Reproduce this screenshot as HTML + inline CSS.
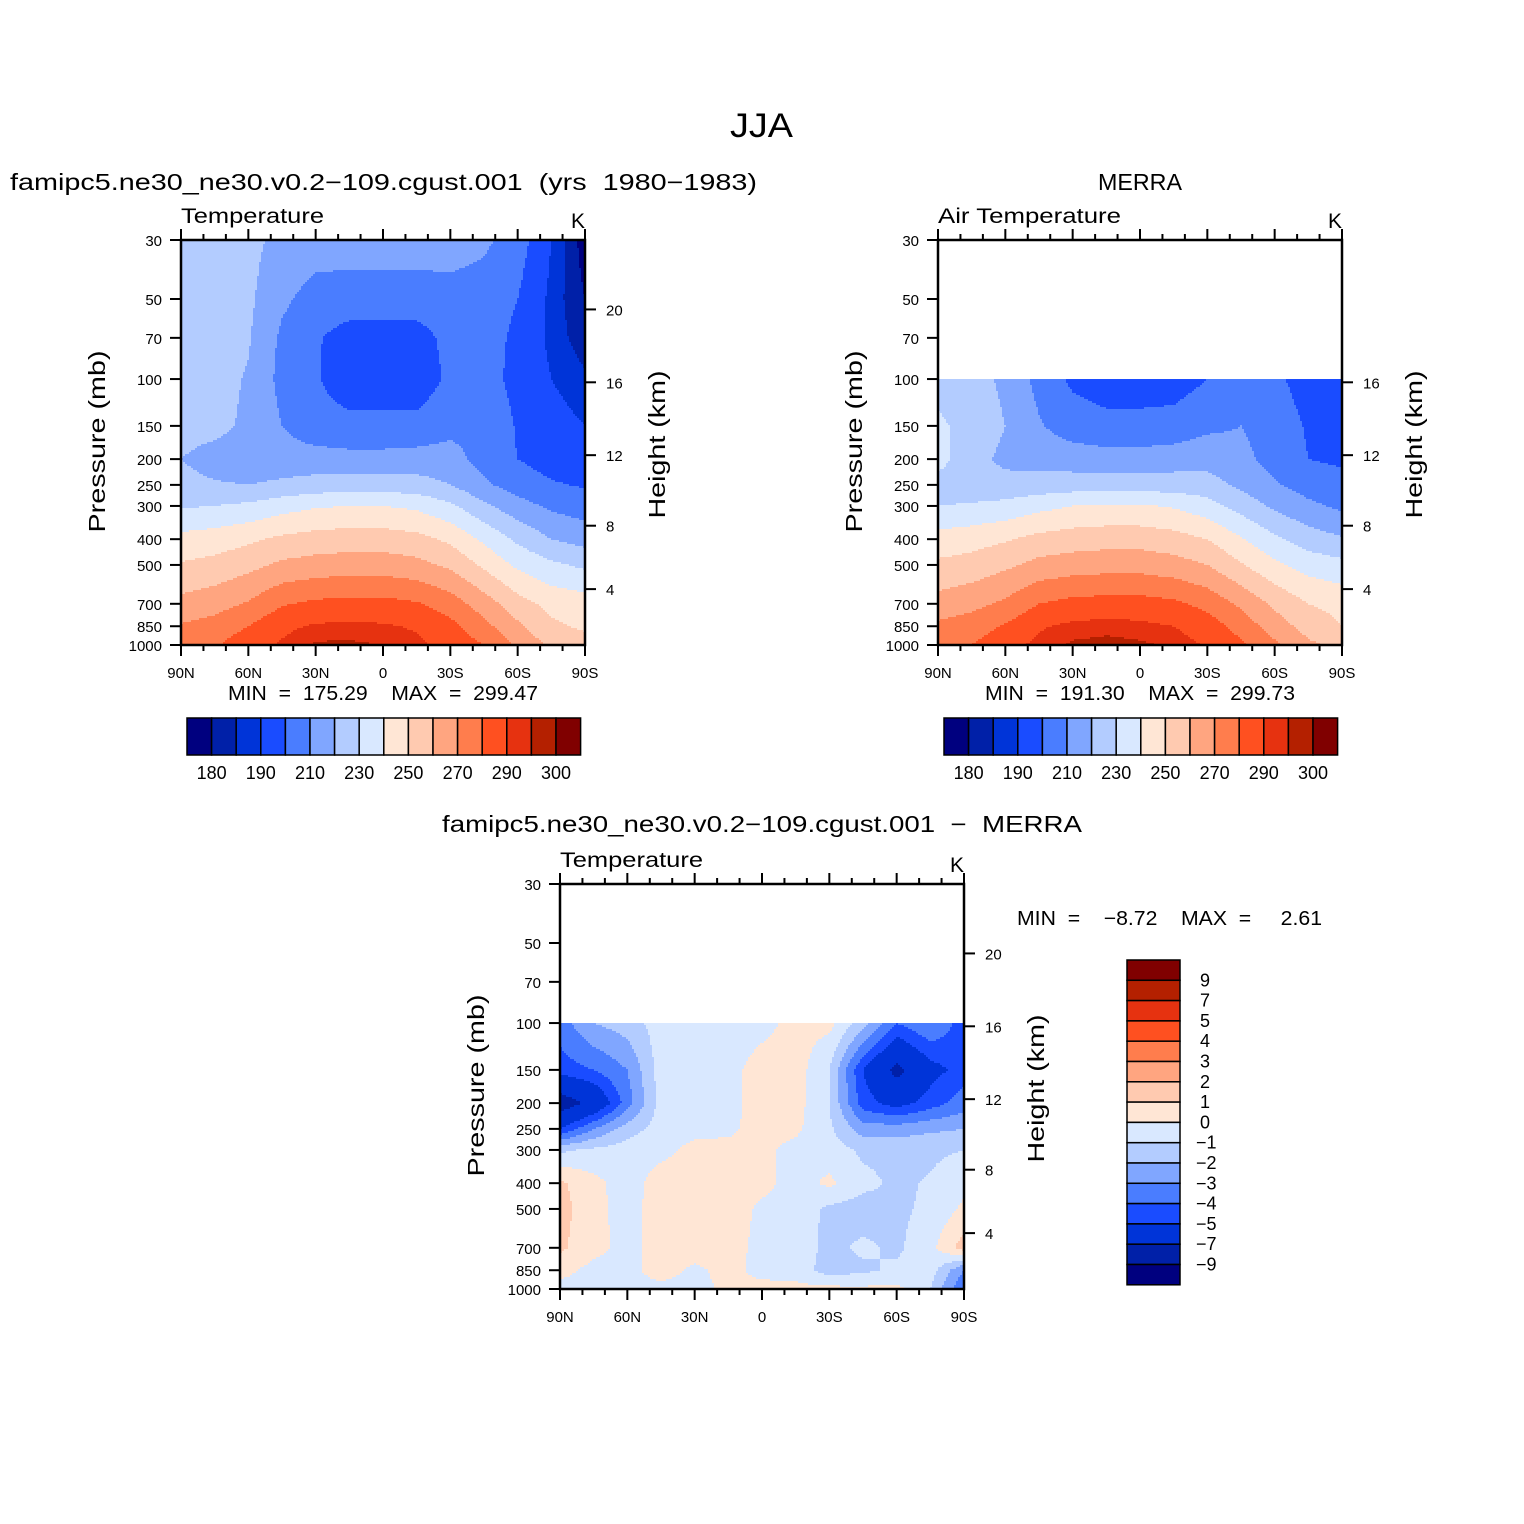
<!DOCTYPE html>
<html><head><meta charset="utf-8">
<style>
html,body{margin:0;padding:0;background:#fff;}
svg{display:block;font-family:"Liberation Sans",sans-serif;}
</style></head>
<body>
<svg id="chart" width="1524" height="1524" viewBox="0 0 1524 1524" xmlns="http://www.w3.org/2000/svg">
<rect width="1524" height="1524" fill="#fff"/>
<text x="730" y="137" font-size="34" textLength="63" lengthAdjust="spacingAndGlyphs">JJA</text>
<g id="layer"></g>
</svg>
<script>
const lats=[90,75,60,45,30,15,0,-15,-30,-45,-60,-75,-90];
const presModel=[30,50,70,100,150,200,250,300,400,500,700,850,1000];
const tempModel=[
[225,225,223,217,215,215,215,215,215,212,205,190,177],
[225,225,222,212,206,205,205,205,206,205,200,188,180],
[225,225,221,208,201,196,196,196,203,204,198,188,182],
[225,224,219,207,201,194,194,194,202,204,197,190,186],
[224,223,218,210,204,203,203,203,207,208,199,193,190],
[220,216,214,214,214,213,213,214,214,206,200,196,194],
[223,221,220,222,224,225,225,224,220,212,205,201,199],
[229,230,232,236,239,240,240,238,232,222,214,208,205],
[243,245,248,252,254,255,255,253,248,238,228,220,216],
[251,253,257,262,264,265,265,263,258,248,238,232,228],
[263,266,271,279,282,283,283,281,275,265,254,247,245],
[271,274,280,288,291,292,291,289,283,273,262,252,248],
[276,279,286,291,296,296,295,292,287,280,268,258,255]];
const presObs=[100,150,200,250,300,400,500,700,850,1000];
const tempObs=[
[226,224,218,207,198,195,195,195,200,206,202,196,196],
[232,226,220,211,205,203,203,204,208,210,205,199,197],
[234,223,218,216,215,214,214,215,216,213,206,200,198],
[226,224,223,224,225,225,225,225,224,218,211,206,204],
[230,231,233,237,240,241,241,239,234,226,218,212,208],
[244,246,249,253,255,256,256,254,250,241,232,225,221],
[252,254,258,263,265,266,266,264,260,251,242,236,233],
[264,267,272,280,283,284,284,282,277,268,258,250,247],
[272,275,281,289,292,293,292,290,285,276,265,256,250],
[277,280,287,292,296,297,296,294,289,282,272,262,257]];
const diffVals=[
[-3.5,-2,-1.5,-0.5,-0.3,-0.5,-0.3,0.3,0.3,-1.5,-4,-3,-4.5],
[-4.5,-4,-3,-0.5,-0.3,-0.3,0.4,0.5,-1,-5,-7.5,-5.5,-4.5],
[-8,-6.5,-3.5,-0.6,-0.4,-0.3,0.4,0.4,-1,-4.5,-5.5,-4.5,-3.5],
[-5,-3,-1.5,-0.5,-0.3,-0.2,0.4,0.2,-0.8,-2.5,-2.5,-2.2,-2],
[-1.2,-0.8,-0.5,-0.3,0.3,0.3,0.2,-0.3,-0.5,-1.2,-1.3,-1.2,-1],
[1.2,0.3,-0.5,0.5,0.6,0.5,0.3,-0.4,0.2,-0.7,-1.2,-0.9,-0.3],
[1.4,0.3,-0.4,0.5,0.6,0.5,-0.2,-0.5,-1.2,-1.5,-1.2,-0.8,0.2],
[1.2,0.3,-0.3,0.4,0.5,0.4,-0.3,-0.4,-1.3,-0.8,-1.2,-0.3,1.5],
[0.3,-0.3,-0.3,0.4,-0.2,0.3,-0.3,-0.4,-1.5,-1.2,-0.8,-0.5,-3],
[-0.3,-0.3,-0.2,-0.3,-0.3,0.2,0.3,0.3,0.3,0.2,0.3,-1,-4]];
const levelsT=[180,185,190,200,210,220,230,240,250,260,270,280,290,295,300];
const levelsD=[-9,-7,-5,-4,-3,-2,-1,0,1,2,3,4,5,7,9];
const labelsT=["180","","190","","210","","230","","250","","270","","290","","300"];
const labelsD=["−9","−7","−5","−4","−3","−2","−1","0","1","2","3","4","5","7","9"];
const xTickLats=[90,60,30,0,-30,-60,-90];
const xTickLabels=["90N","60N","30N","0","30S","60S","90S"];
const pTicks=[30,50,70,100,150,200,250,300,400,500,700,850,1000];
const palette=["#00007f","#0020a8","#0034d8","#1a4cff","#4a7dff","#80a6ff","#b3ccff","#d9e8ff","#ffe6d5","#ffcab0","#ffa580","#ff7d4d","#ff5020","#e63210","#b42000","#800000"];

const NS="http://www.w3.org/2000/svg";
const layer=document.getElementById('layer');
const W=404,H=405,LP0=Math.log10(30);
function yOf(p){return (Math.log10(p)-LP0)/(3-LP0)*H;}
function xOf(lat){return (90-lat)/180*W;}
function mk(tag,attrs,parent){const e=document.createElementNS(NS,tag);for(const k in attrs)e.setAttribute(k,attrs[k]);(parent||layer).appendChild(e);return e;}
function txt(s,x,y,size,anchor,parent){const t=mk('text',{x:x,y:y,'font-size':size,'text-anchor':anchor||'start'},parent);t.textContent=s;return t;}
function sample(grid,pres,lat,p){
  let f=(90-lat)/15;f=Math.max(0,Math.min(lats.length-1.0001,f));const i=Math.floor(f),tx=f-i;
  const lp=Math.log10(p);let j=0;while(j<pres.length-2&&Math.log10(pres[j+1])<lp)j++;
  const a=Math.log10(pres[j]),b=Math.log10(pres[j+1]);let ty=(lp-a)/(b-a);ty=Math.max(0,Math.min(1,ty));
  const v0=grid[j][i]*(1-tx)+grid[j][i+1]*tx,v1=grid[j+1][i]*(1-tx)+grid[j+1][i+1]*tx;
  return v0*(1-ty)+v1*ty;}
function cidx(v,lv){let k=0;while(k<lv.length&&v>=lv[k])k++;return k;}
function pOfZ(z){return z<=11?1013.25*Math.pow(1-z/44.33,1/0.19026):226.3*Math.exp(-(z-11)/6.34);}

function plot(name,ox,oy,grid,pres,lv,heights,leftTitle,leftLen,rightUnit){
  const g=mk('g',{transform:`translate(${ox},${oy})`});
  
  
  const field=mk('g',{'shape-rendering':'crispEdges'},g);
  
  
  const step=2,y0=Math.round(yOf(pres[0]));
  for(let py=y0;py<H;py+=step){
    const p=Math.pow(10,LP0+(py+step/2)/H*(3-LP0));
    let runStart=0,runC=-1;
    for(let px=0;px<=W;px+=step){
      let c=-2;
      if(px<W){const lat=90-(px+step/2)/W*180;c=cidx(sample(grid,pres,lat,p),lv);}
      if(c!==runC){
        if(runC>=0){const r=mk('rect',{x:runStart,y:py,width:Math.min(px,W)-runStart,height:Math.min(step,H-py),fill:palette[runC]},field);
          
          }
        runStart=px;runC=c;}
    }
  }
  const fr=mk('rect',{x:0,y:0,width:W,height:H,fill:'none',stroke:'#000','stroke-width':2.5},g);
  
  
  for(let lat=90;lat>=-90;lat-=10){const x=xOf(lat),maj=lat%30===0,L=maj?11:6;
    mk('line',{x1:x,y1:H,x2:x,y2:H+L,stroke:'#000','stroke-width':2},g);
    mk('line',{x1:x,y1:0,x2:x,y2:-L,stroke:'#000','stroke-width':2},g);}
  xTickLats.forEach((lat,i)=>{const t=txt(xTickLabels[i],xOf(lat),H+33,15,'middle',g);
    
    });
  pTicks.forEach(p=>{const y=yOf(p);mk('line',{x1:-11,y1:y,x2:0,y2:y,stroke:'#000','stroke-width':2},g);
    const t=txt(String(p),-19,y+6,15,'end',g);
    
    });
  heights.forEach(z=>{const y=yOf(pOfZ(z));mk('line',{x1:W,y1:y,x2:W+11,y2:y,stroke:'#000','stroke-width':2},g);
    const t=txt(String(z),W+21,y+6,15,'start',g);
    
    });
  const yt=txt('Pressure  (mb)',0,0,23,'middle',g);yt.setAttribute('transform',`translate(${-76},${H/2-1}) rotate(-90)`);
  yt.setAttribute('textLength','182');yt.setAttribute('lengthAdjust','spacingAndGlyphs');
  
  
  const ht=txt('Height  (km)',0,0,23,'middle',g);ht.setAttribute('transform',`translate(${W+80},${H/2+2}) rotate(-90)`);
  ht.setAttribute('textLength','148');ht.setAttribute('lengthAdjust','spacingAndGlyphs');
  
  
  const lt=txt(leftTitle,0,-17,21,'start',g);
  lt.setAttribute('textLength',leftLen);lt.setAttribute('lengthAdjust','spacingAndGlyphs');
  
  
  const ut=txt(rightUnit,W,-12,21,'end',g);
  
  
}
function hbar(name,x0,y0,lv,labels){
  const g=mk('g',{});
  
  
  const bw=24.6,n=lv.length+1;
  for(let i=0;i<n;i++){const r=mk('rect',{x:x0+i*bw,y:y0,width:bw,height:37,fill:palette[i],stroke:'#000','stroke-width':1.5},g);
    
    }
  labels.forEach((s,i)=>{if(s){const t=txt(s,x0+(i+1)*bw,y0+61,18,'middle',g);
    
    }});
}
function vbar(name,x0,y0,lv,labels){
  const g=mk('g',{});
  
  
  const bh=20.3,n=lv.length+1;
  for(let i=0;i<n;i++){const r=mk('rect',{x:x0,y:y0+i*bh,width:53,height:bh,fill:palette[n-1-i],stroke:'#000','stroke-width':1.5},g);
    
    }
  for(let i=0;i<lv.length;i++){const s=labels[lv.length-1-i];const t=txt(s,s.length>1?x0+69:x0+73,y0+(i+1)*bh+6,18,'start',g);
    
    }
}
plot('model-plot',181,240,tempModel,presModel,levelsT,[4,8,12,16,20],'Temperature','143','K');
plot('merra-plot',938,240,tempObs,presObs,levelsT,[4,8,12,16],'Air Temperature','183','K');
plot('difference-plot',560,884,diffVals,presObs,levelsD,[4,8,12,16,20],'Temperature','143','K');
hbar('model-colorbar',187,718,levelsT,labelsT);
hbar('merra-colorbar',944,718,levelsT,labelsT);
vbar('difference-colorbar',1127,960,levelsD,labelsD);
[['model-title','famipc5.ne30_ne30.v0.2−109.cgust.001  (yrs  1980−1983)',10,190,23,747],
 ['merra-title','MERRA',1098,190,23,84],
 ['model-minmax','MIN  =  175.29    MAX  =  299.47',228,700,20,310],
 ['merra-minmax','MIN  =  191.30    MAX  =  299.73',985,700,20,310],
 ['difference-title','famipc5.ne30_ne30.v0.2−109.cgust.001  −  MERRA',442,832,23,640],
 ['difference-minmax','MIN  =    −8.72    MAX  =     2.61',1017,925,20,305]
].forEach(a=>{const t=txt(a[1],a[2],a[3],a[4],'start');t.setAttribute('xml:space','preserve');t.style.whiteSpace='pre';
  t.setAttribute('textLength',a[5]);t.setAttribute('lengthAdjust','spacingAndGlyphs');
  
  });
</script>
</body></html>
